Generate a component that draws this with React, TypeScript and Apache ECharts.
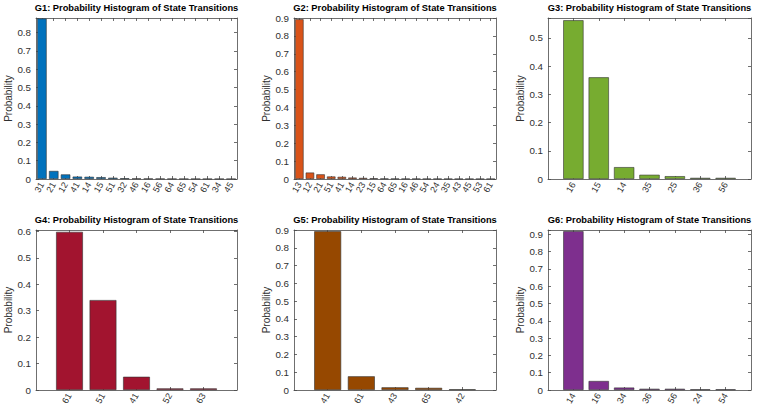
import React, { useEffect, useRef } from "react";
import * as echarts from "echarts";

const titles = [
  "G1: Probability Histogram of State Transitions",
  "G2: Probability Histogram of State Transitions",
  "G3: Probability Histogram of State Transitions",
  "G4: Probability Histogram of State Transitions",
  "G5: Probability Histogram of State Transitions",
  "G6: Probability Histogram of State Transitions",
];

const g1Categories = ["31", "21", "12", "41", "14", "15", "51", "32", "46", "16", "56", "64", "65", "54", "61", "34", "45"];
const g1Values = [0.877, 0.044, 0.025, 0.013, 0.012, 0.01, 0.007, 0.004, 0.003, 0.002, 0.0015, 0.001, 0.0008, 0.0006, 0.0005, 0.0004, 0.0003];

const g2Categories = ["13", "12", "21", "51", "41", "14", "23", "15", "64", "65", "16", "46", "54", "24", "35", "43", "45", "53", "61"];
const g2Values = [0.893, 0.036, 0.026, 0.014, 0.012, 0.008, 0.006, 0.004, 0.002, 0.0015, 0.001, 0.001, 0.0008, 0.0007, 0.0006, 0.0005, 0.0004, 0.0003, 0.0002];

const g3Categories = ["16", "15", "14", "35", "25", "36", "56"];
const g3Values = [0.562, 0.36, 0.042, 0.015, 0.01, 0.004, 0.004];

const g4Categories = ["61", "51", "41", "52", "63"];
const g4Values = [0.598, 0.34, 0.05, 0.006, 0.006];

const g5Categories = ["41", "61", "43", "65", "42"];
const g5Values = [0.893, 0.077, 0.015, 0.012, 0.004];

const g6Categories = ["14", "16", "34", "36", "56", "24", "54"];
const g6Values = [0.918, 0.052, 0.014, 0.007, 0.007, 0.004, 0.004];

const yMaxes = [0.88, 0.9, 0.57, 0.605, 0.9, 0.925];
const yTickStep = 0.1;
const yAxisTitle = "Probability";

const categoriesList = [g1Categories, g2Categories, g3Categories, g4Categories, g5Categories, g6Categories];
const valuesList = [g1Values, g2Values, g3Values, g4Values, g5Values, g6Values];
// charts whose x-limits have one empty unit on each side
const paddedX = [false, false, true, true, true, true];

const colors = ["#0072BD", "#D95319", "#77AC30", "#A2142F", "#964800", "#7E2F8E"];

const FONT = "'Liberation Sans', Helvetica, Arial, sans-serif";
const AXIS_COLOR = "#4a4a4a";
const TEXT_COLOR = "#303030";

const colLefts = [36, 294, 548];
const colWidths = [201, 202, 203];
const rowTops = [18, 230];
const rowHeights = [161, 160];
const titleTops = [3, 215];

function buildOption() {
  const grid: any[] = [];
  const title: any[] = [];
  const xAxis: any[] = [];
  const yAxis: any[] = [];
  const series: any[] = [];

  for (let i = 0; i < 6; i++) {
    const col = i % 3;
    const row = Math.floor(i / 3);
    const left = colLefts[col];
    const width = colWidths[col];
    const top = rowTops[row];
    const height = rowHeights[row];
    grid.push({ left, top, width, height, containLabel: false });
    title.push({
      text: titles[i],
      left: left + width / 2,
      top: titleTops[row],
      textAlign: "center",
      padding: 0,
      textStyle: { fontFamily: FONT, fontSize: 9.3, fontWeight: "bold", color: "#000" },
    });

    const padded = paddedX[i];
    const cats = padded ? ["", ...categoriesList[i], ""] : categoriesList[i];
    const vals = padded ? ["-", ...valuesList[i], "-"] : valuesList[i];
    const showFn = padded ? (_idx: number, v: string) => v !== "" : 0;

    const baseX = {
      type: "category",
      gridIndex: i,
      data: cats,
      boundaryGap: !padded,
      axisLine: { show: true, onZero: false, lineStyle: { color: AXIS_COLOR, width: 0.8 } },
      axisTick: { show: true, inside: true, length: 3, alignWithLabel: true, interval: showFn, lineStyle: { color: AXIS_COLOR, width: 0.8 } },
      splitLine: { show: false },
    };
    xAxis.push({
      ...baseX,
      position: "bottom",
      axisLabel: {
        show: true,
        interval: showFn,
        rotate: 60,
        margin: 4,
        fontFamily: FONT,
        fontSize: 9,
        color: TEXT_COLOR,
      },
    });
    xAxis.push({ ...baseX, position: "top", axisLabel: { show: false } });

    const baseY = {
      type: "value",
      gridIndex: i,
      min: 0,
      max: yMaxes[i],
      interval: yTickStep,
      axisLine: { show: true, onZero: false, lineStyle: { color: AXIS_COLOR, width: 0.8 } },
      axisTick: { show: true, inside: true, length: 3, lineStyle: { color: AXIS_COLOR, width: 0.8 } },
      splitLine: { show: false },
    };
    yAxis.push({
      ...baseY,
      position: "left",
      name: yAxisTitle,
      nameLocation: "middle",
      nameGap: 18,
      nameTextStyle: { fontFamily: FONT, fontSize: 10, color: TEXT_COLOR },
      axisLabel: {
        show: true,
        margin: 5,
        fontFamily: FONT,
        fontSize: 9.8,
        color: TEXT_COLOR,
        formatter: (v: number) => {
          const r = v / yTickStep;
          if (Math.abs(r - Math.round(r)) > 1e-6) return "";
          return String(+v.toFixed(1));
        },
      },
    });
    yAxis.push({ ...baseY, position: "right", axisLabel: { show: false } });

    series.push({
      type: "bar",
      xAxisIndex: i * 2,
      yAxisIndex: i * 2,
      data: vals,
      barCategoryGap: "20%",
      itemStyle: { color: colors[i], borderColor: "#333", borderWidth: 0.6 },
    });
  }

  return { animation: false, backgroundColor: "#fff", title, grid, xAxis, yAxis, series };
}

export default function App() {
  const ref = useRef<HTMLDivElement>(null);
  useEffect(() => {
    if (!ref.current) return;
    const chart = echarts.init(ref.current, undefined, { renderer: "svg" });
    chart.setOption(buildOption() as any);
    return () => chart.dispose();
  }, []);
  return (
    <div
      ref={ref}
      style={{ position: "fixed", left: 0, top: 0, width: 763, height: 412, background: "#fff" }}
    />
  );
}
